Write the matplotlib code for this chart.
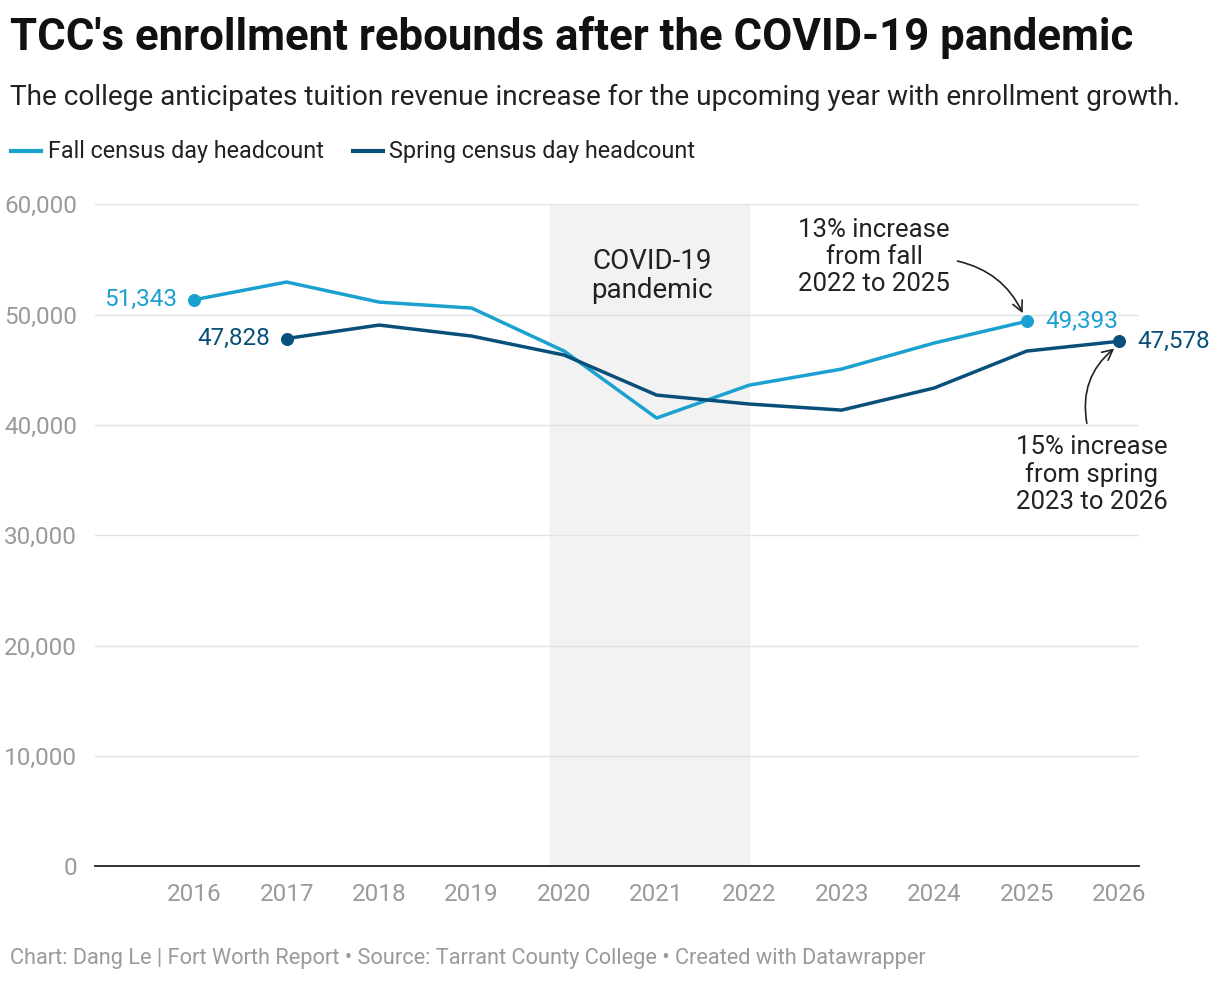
import matplotlib
matplotlib.use("Agg")
import matplotlib.pyplot as plt

plt.rcParams['font.family'] = ['Roboto', 'DejaVu Sans']

fall_years = [2016, 2017, 2018, 2019, 2020, 2021, 2022, 2023, 2024, 2025]
fall_vals = [51343, 52950, 51130, 50590, 46690, 40620, 43600, 45060, 47420, 49393]
spring_years = [2017, 2018, 2019, 2020, 2021, 2022, 2023, 2024, 2025, 2026]
spring_vals = [47828, 49050, 48050, 46330, 42700, 41890, 41340, 43340, 46690, 47578]
yticks = [0, 10000, 20000, 30000, 40000, 50000, 60000]
xticks = list(range(2016, 2027))

FALL = '#1aa1d0'
SPRING = '#08507a'
GREY = '#9a9a9a'

fig = plt.figure(figsize=(12.2, 9.82), dpi=100)
ax = fig.add_axes([0.078, 0.118, 0.856, 0.674])
ax.set_xlim(2014.93, 2026.22)
ax.set_ylim(0, 60000)

ax.axvspan(2019.85, 2022, color='#f2f2f2', zorder=0)
for t in yticks[1:]:
    ax.axhline(t, color='#e2e2e2', lw=1, zorder=1)

ax.plot(fall_years, fall_vals, color=FALL, lw=2.5, zorder=3)
ax.plot(spring_years, spring_vals, color=SPRING, lw=2.5, zorder=3)
ax.scatter([fall_years[0], fall_years[-1]], [fall_vals[0], fall_vals[-1]], color=FALL, s=70, zorder=4)
ax.scatter([spring_years[0], spring_years[-1]], [spring_vals[0], spring_vals[-1]], color=SPRING, s=70, zorder=4)

ax.text(fall_years[0]-0.18, fall_vals[0], f"{fall_vals[0]:,}", color=FALL, fontsize=17.5, ha='right', va='center')
ax.text(fall_years[-1]+0.2, fall_vals[-1], f"{fall_vals[-1]:,}", color=FALL, fontsize=17.5, ha='left', va='center')
ax.text(spring_years[0]-0.18, spring_vals[0], f"{spring_vals[0]:,}", color=SPRING, fontsize=17.5, ha='right', va='center')
ax.text(spring_years[-1]+0.2, spring_vals[-1], f"{spring_vals[-1]:,}", color=SPRING, fontsize=17.5, ha='left', va='center')

ax.text(2020.95, 56000, "COVID-19\npandemic", fontsize=20, ha='center', va='top', color='#222', linespacing=1.1)

ax.annotate("13% increase\nfrom fall\n2022 to 2025", xy=(fall_years[-1]-0.03, fall_vals[-1]+500),
            xytext=(2023.35, 55200), fontsize=18.5, ha='center', va='center', color='#222', linespacing=1.15,
            arrowprops=dict(arrowstyle='->', color='#222', lw=1.2, connectionstyle='arc3,rad=-0.25', shrinkA=0, shrinkB=2,
                            relpos=(1.05, 0.45)))
ax.annotate("15% increase\nfrom spring\n2023 to 2026", xy=(spring_years[-1]-0.03, spring_vals[-1]-500),
            xytext=(2025.7, 35500), fontsize=18.5, ha='center', va='center', color='#222', linespacing=1.15,
            arrowprops=dict(arrowstyle='->', color='#222', lw=1.2, connectionstyle='arc3,rad=-0.3', shrinkA=0, shrinkB=2,
                            relpos=(0.47, 1.15)))

ax.set_yticks(yticks)
ax.set_yticklabels([f"{t:,}" for t in yticks])
ax.set_xticks(xticks)
ax.set_xticklabels([str(x) for x in xticks])
ax.tick_params(axis='both', length=0, labelsize=17.5, colors=GREY)
ax.tick_params(axis='x', pad=12)
ax.tick_params(axis='y', pad=13)
for s in ['top', 'right', 'left']:
    ax.spines[s].set_visible(False)
ax.spines['bottom'].set_color('#222')
ax.spines['bottom'].set_linewidth(1.3)

fig.text(0.008, 0.962, "TCC's enrollment rebounds after the COVID-19 pandemic", fontsize=31.5, fontweight='bold', va='center', color='#111')
fig.text(0.008, 0.901, "The college anticipates tuition revenue increase for the upcoming year with enrollment growth.", fontsize=20.2, va='center', color='#222')
fig.lines.append(plt.Line2D([0.009, 0.034], [0.846, 0.846], color=FALL, lw=3, transform=fig.transFigure))
fig.text(0.039, 0.846, "Fall census day headcount", fontsize=16.8, va='center', color='#222')
fig.lines.append(plt.Line2D([0.289, 0.314], [0.846, 0.846], color=SPRING, lw=3, transform=fig.transFigure))
fig.text(0.319, 0.846, "Spring census day headcount", fontsize=16.8, va='center', color='#222')
fig.text(0.008, 0.024, "Chart: Dang Le | Fort Worth Report • Source: Tarrant County College • Created with Datawrapper", fontsize=15.7, va='center', color=GREY)

fig.savefig("out.png", dpi=100, facecolor='white')
